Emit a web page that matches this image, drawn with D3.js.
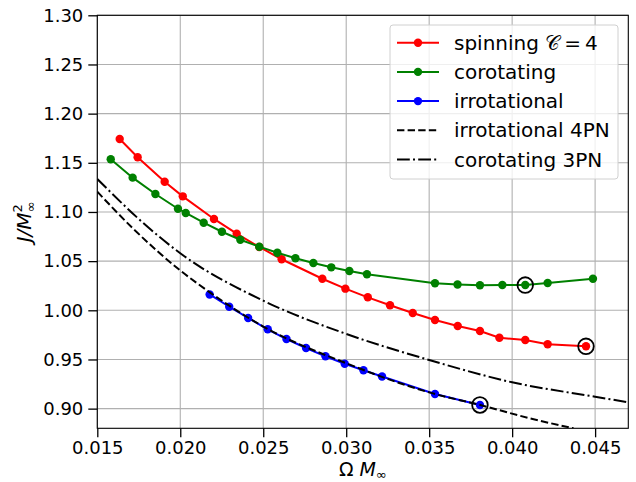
<!DOCTYPE html>
<html>
<head>
<meta charset="utf-8">
<script src="https://cdn.jsdelivr.net/npm/d3@7"></script>
<style>
  body { margin: 0; background: #ffffff; }
  text { font-family: "DejaVu Sans", sans-serif; }
</style>
</head>
<body>
<svg id="chart" width="636" height="482"></svg>
<script>
// spinning C = 4
var spin_x = [0.01635, 0.01743, 0.01906, 0.02015, 0.02203, 0.02340, 0.02476, 0.02611, 0.02856, 0.02995,
  0.03130, 0.03264, 0.03401, 0.03535, 0.03672, 0.03806, 0.03923, 0.04079, 0.04214, 0.04445]
var spin_y = [1.1742, 1.1556, 1.1308, 1.1159, 1.0929, 1.0779, 1.0644, 1.0519, 1.0321, 1.0220,
  1.0132, 1.0051, 0.9973, 0.9901, 0.9840, 0.9790, 0.9721, 0.9698, 0.9654, 0.9634]

// corotating
var corot_x = [0.01581, 0.01713, 0.01850, 0.01986, 0.02033, 0.02141, 0.02251, 0.02362, 0.02476, 0.02585, 0.02694,
  0.02802, 0.02910, 0.03019, 0.03125, 0.03535, 0.03671, 0.03806, 0.03941, 0.04079, 0.04214, 0.04487]
var corot_y = [1.1536, 1.1349, 1.1183, 1.1033, 1.0990, 1.0891, 1.0799, 1.0718, 1.0647, 1.0586, 1.0529,
  1.0481, 1.0437, 1.0400, 1.0366, 1.0275, 1.0262, 1.0254, 1.0257, 1.0257, 1.0278, 1.0321]

// irrotational
var irrot_x = [0.02177, 0.02295, 0.02409, 0.02527, 0.02640, 0.02758, 0.02875, 0.02991, 0.03104, 0.03216, 0.03535, 0.03806]
var irrot_y = [1.0161, 1.0036, 0.9922, 0.9807, 0.9708, 0.9617, 0.9532, 0.9457, 0.9390, 0.9327, 0.9149, 0.9037]

// irrotational 4PN
var pn4_x = [0.015, 0.0172, 0.020, 0.0218, 0.025, 0.030, 0.035, 0.038, 0.0411, 0.0437]
var pn4_y = [1.1206, 1.0824, 1.0405, 1.0180, 0.9835, 0.9462, 0.9165, 0.9040, 0.8900, 0.8800]

// corotating 3PN
var pn3_x = [0.015, 0.0182, 0.020, 0.025, 0.030, 0.035, 0.040, 0.045, 0.047]
var pn3_y = [1.1335, 1.0824, 1.0580, 1.0098, 0.9760, 0.9495, 0.9268, 0.9121, 0.9064]

// circled end points
var marked_x = [0.04445, 0.04079, 0.03806]
var marked_y = [0.9634, 1.0257, 0.9037]

var x_ticks = [0.015, 0.020, 0.025, 0.030, 0.035, 0.040, 0.045]
var y_ticks = [0.90, 0.95, 1.00, 1.05, 1.10, 1.15, 1.20, 1.25, 1.30]

var legend_labels = ["spinning ", "corotating", "irrotational", "irrotational 4PN", "corotating 3PN"]
var legend_colors = ["#ff0000", "#008000", "#0000ff", "#000000", "#000000"]

chart()

function chart() {
  var svg = d3.select("#chart")
  var mLeft = 97.3, mRight = 628.3, mTop = 15.3, mBottom = 428.3

  var x = d3.scaleLinear().domain([0.015, 0.047]).range([mLeft, mRight])
  var y = d3.scaleLinear().domain([0.88, 1.30]).range([mBottom, mTop])

  function zip(xs, ys) { return xs.map(function(v, i) { return [v, ys[i]] }) }

  //grid
  svg.append("g")
    .selectAll("line")
    .data(x_ticks)
    .enter().append("line")
    .attr("x1", function(d) { return x(d) }).attr("x2", function(d) { return x(d) })
    .attr("y1", mTop).attr("y2", mBottom)
    .style("stroke", "#b0b0b0").style("stroke-width", 1.1)
  svg.append("g")
    .selectAll("line")
    .data(y_ticks)
    .enter().append("line")
    .attr("y1", function(d) { return y(d) }).attr("y2", function(d) { return y(d) })
    .attr("x1", mLeft).attr("x2", mRight)
    .style("stroke", "#b0b0b0").style("stroke-width", 1.1)

  //axes
  svg.append("g")
    .attr("transform", "translate(0," + mBottom + ")")
    .call(d3.axisBottom(x).tickValues(x_ticks).tickFormat(d3.format(".3f")).tickSize(9).tickPadding(4))
  svg.append("g")
    .attr("transform", "translate(" + mLeft + ",0)")
    .call(d3.axisLeft(y).tickValues(y_ticks).tickFormat(d3.format(".2f")).tickSize(9).tickPadding(5))
  svg.selectAll(".domain").remove()
  svg.selectAll(".tick line").style("stroke", "#000").style("stroke-width", 1.3)
  svg.selectAll(".tick text").style("font-size", "18px").style("fill", "#000").style("font-family", "DejaVu Sans")

  //frame
  svg.append("rect")
    .attr("x", mLeft).attr("y", mTop)
    .attr("width", mRight - mLeft).attr("height", mBottom - mTop)
    .style("fill", "none").style("stroke", "#000").style("stroke-width", 1.1)

  //axis labels
  var xlab = svg.append("text")
    .attr("x", (mLeft + mRight) / 2).attr("y", 476)
    .attr("text-anchor", "middle")
    .style("font-size", "19px")
  xlab.append("tspan").text("Ω ")
  xlab.append("tspan").style("font-style", "italic").text("M")
  xlab.append("tspan").attr("font-size", "13px").attr("dy", 3).text("∞")

  var ylab = svg.append("text")
    .attr("transform", "translate(31," + ((mTop + mBottom) / 2) + ") rotate(-90)")
    .attr("text-anchor", "middle")
    .style("font-size", "20px")
  ylab.append("tspan").style("font-style", "italic").text("J/M")
  ylab.append("tspan").attr("font-size", "13px").attr("dy", -9).text("2")
  ylab.append("tspan").attr("font-size", "13px").attr("dx", -8).attr("dy", 13).text("∞")

  //clip
  svg.append("clipPath").attr("id", "clip")
    .append("rect").attr("x", mLeft).attr("y", mTop).attr("width", mRight - mLeft).attr("height", mBottom - mTop)

  var plot = svg.append("g").attr("clip-path", "url(#clip)")
  var line = d3.line().x(function(d) { return x(d[0]) }).y(function(d) { return y(d[1]) })
  var curve = d3.line().curve(d3.curveMonotoneX).x(function(d) { return x(d[0]) }).y(function(d) { return y(d[1]) })

  //data series
  var series = [zip(spin_x, spin_y), zip(corot_x, corot_y), zip(irrot_x, irrot_y)]
  series.forEach(function(s, i) {
    plot.append("path")
      .datum(s)
      .attr("d", line)
      .style("fill", "none")
      .style("stroke", legend_colors[i])
      .style("stroke-width", 2)
    plot.append("g")
      .selectAll("circle")
      .data(s)
      .enter().append("circle")
      .attr("cx", function(d) { return x(d[0]) })
      .attr("cy", function(d) { return y(d[1]) })
      .attr("r", 4.2)
      .style("fill", legend_colors[i])
  })

  //PN curves
  plot.append("path")
    .datum(zip(pn4_x, pn4_y))
    .attr("d", curve)
    .style("fill", "none").style("stroke", "#000").style("stroke-width", 2)
    .style("stroke-dasharray", "7.4,3.2")
  plot.append("path")
    .datum(zip(pn3_x, pn3_y))
    .attr("d", curve)
    .style("fill", "none").style("stroke", "#000").style("stroke-width", 2)
    .style("stroke-dasharray", "12.8,3.2,2,3.2")

  //circled points
  plot.append("g")
    .selectAll("circle")
    .data(zip(marked_x, marked_y))
    .enter().append("circle")
    .attr("cx", function(d) { return x(d[0]) })
    .attr("cy", function(d) { return y(d[1]) })
    .attr("r", 7.8)
    .style("fill", "none")
    .style("stroke", "#000")
    .style("stroke-width", 1.8)

  //legend
  var legend = svg.append("g").attr("class", "legend")
  legend.append("rect")
    .attr("x", 390).attr("y", 25)
    .attr("width", 228).attr("height", 154)
    .attr("rx", 3)
    .style("fill", "#fff").style("fill-opacity", 0.8)
    .style("stroke", "#d0d0d0").style("stroke-width", 1)

  var legendItems = legend.selectAll(".legendItem")
    .data(legend_labels)
    .enter().append("g")
    .attr("class", "legendItem")
    .attr("transform", function(d, i) { return "translate(0," + (42.7 + i * 29.2) + ")" })

  legendItems.append("line")
    .attr("x1", 397).attr("x2", 439)
    .style("stroke", function(d, i) { return legend_colors[i] })
    .style("stroke-width", 2)
    .style("stroke-dasharray", function(d, i) { return i == 3 ? "7.4,3.2" : (i == 4 ? "12.8,3.2,2,3.2" : null) })
  legendItems.filter(function(d, i) { return i < 3 })
    .append("circle")
    .attr("cx", 418).attr("r", 4.2)
    .style("fill", function(d, i) { return legend_colors[i] })

  legendItems.append("text")
    .attr("x", 454).attr("y", 7)
    .style("font-size", "20px")
    .text(function(d) { return d })
  var first = legendItems.filter(function(d, i) { return i == 0 }).select("text")
  first.append("tspan").text("𝒞")
  first.append("tspan").text("\u2009=\u20094")
}
</script>
</body>
</html>
